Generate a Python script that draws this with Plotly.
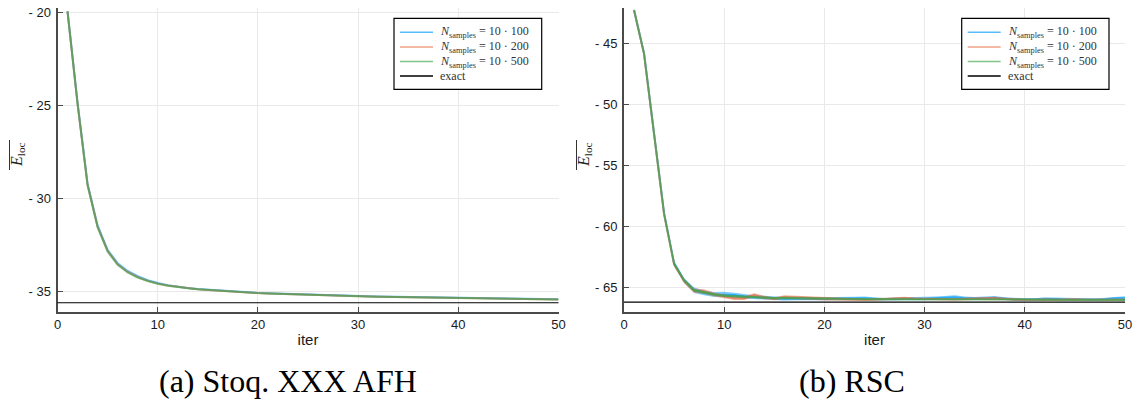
import plotly.graph_objects as go

# ---------------------------------------------------------------- data
iters = list(range(1, 51))

# Stoquastic AFH: mean local energy per iteration for three sample sizes
afh_100 = [-19.95, -24.85, -29.22, -31.47, -32.78, -33.50, -33.92, -34.20, -34.41, -34.57,
           -34.68, -34.77, -34.84, -34.89, -34.93, -34.97, -35.01, -35.04, -35.07, -35.10,
           -35.12, -35.14, -35.16, -35.18, -35.20, -35.21, -35.23, -35.24, -35.25, -35.27,
           -35.28, -35.29, -35.30, -35.31, -35.32, -35.33, -35.34, -35.35, -35.36, -35.37,
           -35.38, -35.38, -35.39, -35.40, -35.41, -35.41, -35.42, -35.43, -35.43, -35.44]
afh_200 = [-19.95, -24.90, -29.28, -31.53, -32.84, -33.56, -33.97, -34.25, -34.45, -34.60,
           -34.70, -34.78, -34.85, -34.90, -34.94, -34.98, -35.02, -35.05, -35.08, -35.11,
           -35.13, -35.15, -35.17, -35.19, -35.21, -35.22, -35.24, -35.25, -35.26, -35.28,
           -35.29, -35.30, -35.31, -35.32, -35.33, -35.34, -35.35, -35.36, -35.37, -35.38,
           -35.39, -35.39, -35.40, -35.41, -35.42, -35.42, -35.43, -35.44, -35.44, -35.45]
afh_500 = [-19.95, -24.92, -29.31, -31.56, -32.87, -33.59, -34.00, -34.27, -34.46, -34.61,
           -34.71, -34.79, -34.85, -34.90, -34.94, -34.98, -35.02, -35.05, -35.08, -35.11,
           -35.13, -35.15, -35.17, -35.19, -35.21, -35.22, -35.24, -35.25, -35.26, -35.28,
           -35.29, -35.30, -35.31, -35.32, -35.33, -35.34, -35.35, -35.36, -35.37, -35.38,
           -35.39, -35.40, -35.40, -35.41, -35.42, -35.43, -35.43, -35.44, -35.45, -35.45]
afh_exact = -35.63

# RSC: mean local energy and spread (half width of the ribbon)
rsc_100 = [-42.30, -45.85, -52.40, -58.90, -63.00, -64.40, -65.20, -65.42, -65.55, -65.55,
           -65.60, -65.72, -65.78, -65.80, -65.85, -65.90, -65.88, -65.90, -65.92, -65.90,
           -65.88, -65.90, -65.88, -65.85, -65.92, -65.95, -65.92, -65.90, -65.93, -65.90,
           -65.85, -65.82, -65.78, -65.85, -65.88, -65.85, -65.82, -65.90, -65.95, -65.96,
           -65.95, -65.90, -65.92, -65.95, -65.95, -65.96, -65.97, -65.93, -65.85, -65.85]
rsc_100_err = [0.05, 0.08, 0.10, 0.12, 0.20, 0.20, 0.22, 0.20, 0.20, 0.22,
               0.20, 0.18, 0.16, 0.15, 0.15, 0.14, 0.14, 0.13, 0.13, 0.13,
               0.13, 0.13, 0.14, 0.14, 0.12, 0.12, 0.12, 0.12, 0.12, 0.13,
               0.14, 0.15, 0.16, 0.14, 0.13, 0.13, 0.14, 0.12, 0.10, 0.10,
               0.10, 0.12, 0.12, 0.11, 0.10, 0.10, 0.10, 0.11, 0.14, 0.15]
rsc_200 = [-42.30, -45.90, -52.45, -59.00, -63.10, -64.45, -65.25, -65.30, -65.55, -65.70,
           -65.85, -65.85, -65.60, -65.80, -65.90, -65.75, -65.78, -65.80, -65.88, -65.92,
           -65.95, -65.93, -65.95, -65.98, -65.95, -65.90, -65.88, -65.85, -65.90, -65.92,
           -65.95, -65.93, -65.95, -65.92, -65.90, -65.88, -65.85, -65.92, -65.97, -65.98,
           -65.98, -65.96, -66.00, -65.97, -65.95, -65.98, -65.97, -65.96, -65.97, -65.98]
rsc_200_err = [0.05, 0.08, 0.10, 0.12, 0.15, 0.18, 0.18, 0.18, 0.16, 0.15,
               0.16, 0.15, 0.15, 0.14, 0.13, 0.14, 0.13, 0.13, 0.12, 0.12,
               0.11, 0.11, 0.11, 0.10, 0.10, 0.11, 0.12, 0.12, 0.11, 0.10,
               0.10, 0.10, 0.10, 0.10, 0.11, 0.12, 0.12, 0.10, 0.09, 0.09,
               0.09, 0.09, 0.08, 0.09, 0.09, 0.08, 0.08, 0.08, 0.08, 0.08]
rsc_500 = [-42.30, -45.85, -52.40, -58.95, -63.05, -64.40, -65.20, -65.40, -65.55, -65.65,
           -65.70, -65.75, -65.80, -65.82, -65.85, -65.83, -65.85, -65.87, -65.90, -65.90,
           -65.91, -65.92, -65.92, -65.93, -65.93, -65.92, -65.90, -65.91, -65.93, -65.92,
           -65.93, -65.94, -65.94, -65.95, -65.94, -65.93, -65.93, -65.95, -65.96, -65.96,
           -65.97, -65.97, -65.97, -65.98, -65.98, -65.98, -65.98, -65.99, -65.99, -65.99]
rsc_500_err = [0.04, 0.06, 0.08, 0.10, 0.12, 0.12, 0.12, 0.12, 0.11, 0.10,
               0.10, 0.10, 0.09, 0.09, 0.09, 0.09, 0.08, 0.08, 0.08, 0.08,
               0.07, 0.07, 0.07, 0.07, 0.07, 0.07, 0.07, 0.07, 0.07, 0.07,
               0.06, 0.06, 0.06, 0.06, 0.06, 0.06, 0.06, 0.06, 0.06, 0.06,
               0.06, 0.06, 0.06, 0.06, 0.06, 0.06, 0.06, 0.06, 0.06, 0.06]
rsc_exact = -66.18

series_names = ["10 · 100", "10 · 200", "10 · 500"]
x_ticks = [0, 10, 20, 30, 40, 50]
afh_ticks = [-35, -30, -25, -20]
rsc_ticks = [-65, -60, -55, -50, -45]

# ---------------------------------------------------------------- style
W, H = 1140, 405
RGB = ["0,154,250", "227,111,71", "62,164,78"]
LINE_ALPHA = 0.65
FILL_ALPHA = 0.5
AXIS_COL = "#4a4a4a"
GRID_COL = "#e9e9e9"
SANS = "Liberation Sans, Arial, sans-serif"
SERIF = "Liberation Serif, Times New Roman, serif"


def px(x):
    return x / W


def py(y):
    return 1 - y / H


fig = go.Figure()

# left panel: plain lines
for vals, rgb, name in zip([afh_100, afh_200, afh_500], RGB, series_names):
    fig.add_trace(go.Scatter(
        x=iters, y=vals, mode="lines", name=name,
        line=dict(color=f"rgba({rgb},{LINE_ALPHA})", width=2),
        xaxis="x", yaxis="y", hoverinfo="x+y"))

# right panel: ribbons + lines
for vals, err, rgb, name in zip([rsc_100, rsc_200, rsc_500],
                                [rsc_100_err, rsc_200_err, rsc_500_err], RGB, series_names):
    upper = [v + e for v, e in zip(vals, err)]
    lower = [v - e for v, e in zip(vals, err)]
    fig.add_trace(go.Scatter(x=iters, y=upper, mode="lines", line=dict(width=0),
                             xaxis="x2", yaxis="y2", hoverinfo="skip", showlegend=False))
    fig.add_trace(go.Scatter(x=iters, y=lower, mode="lines", line=dict(width=0),
                             fill="tonexty", fillcolor=f"rgba({rgb},{FILL_ALPHA})",
                             xaxis="x2", yaxis="y2", hoverinfo="skip", showlegend=False))
    fig.add_trace(go.Scatter(
        x=iters, y=vals, mode="lines", name=name,
        line=dict(color=f"rgba({rgb},{LINE_ALPHA})", width=2),
        xaxis="x2", yaxis="y2", hoverinfo="x+y"))

# exact reference energies
shapes = [
    dict(type="line", xref="x domain", yref="y", x0=0, x1=1, y0=afh_exact, y1=afh_exact,
         line=dict(color="black", width=1.2)),
    dict(type="line", xref="x2 domain", yref="y2", x0=0, x1=1, y0=rsc_exact, y1=rsc_exact,
         line=dict(color="black", width=1.2)),
]

annotations = []


def axis_common(domain, rng, ticks, ticktext=None):
    d = dict(domain=domain, range=rng, tickvals=ticks, showgrid=True, gridcolor=GRID_COL,
             gridwidth=1, zeroline=False, showline=True, linecolor=AXIS_COL, linewidth=2,
             ticks="inside", ticklen=5, tickwidth=1, tickcolor=AXIS_COL,
             tickfont=dict(family=SANS, size=13, color="#1a1a1a"), automargin=False,
             fixedrange=True)
    if ticktext is not None:
        d["ticktext"] = ticktext
    return d


y_dom = [py(311.5), py(8.3)]
xa = axis_common([px(57.5), px(558.5)], [0, 50], x_ticks)
xa.update(title=dict(text="iter", font=dict(family=SANS, size=15, color="#1a1a1a"), standoff=3),
          anchor="y")
xa2 = axis_common([px(624), px(1125)], [0, 50], x_ticks)
xa2.update(title=dict(text="iter", font=dict(family=SANS, size=15, color="#1a1a1a"), standoff=3),
           anchor="y2")
ya = axis_common(y_dom, [-36.1, -19.78], afh_ticks, ["- %d" % abs(t) for t in afh_ticks])
ya.update(anchor="x", ticklabelstandoff=2)
ya2 = axis_common(y_dom, [-66.94, -42.16], rsc_ticks, ["- %d" % abs(t) for t in rsc_ticks])
ya2.update(anchor="x2", ticklabelstandoff=2)

# y-axis labels: E_loc with an overbar
for xc, xbar in [(18, 9.5), (585, 576.5)]:
    annotations.append(dict(xref="paper", yref="paper", x=px(xc), y=py(155),
                            xanchor="center", yanchor="middle",
                            text="<i>E</i><sub>loc</sub>", textangle=-90, showarrow=False,
                            font=dict(family=SERIF, size=16, color="#222")))
    shapes.append(dict(type="line", xref="paper", yref="paper", x0=px(xbar), x1=px(xbar),
                       y0=py(140), y1=py(170), line=dict(color="#333", width=1)))

# legends
legend_labels = ["<i>N</i><sub>samples</sub> = " + n for n in series_names] + ["exact"]
legend_cols = [f"rgba({c},{LINE_ALPHA})" for c in RGB] + ["black"]
for bx0, bx1 in [(394, 541.7), (961.7, 1109)]:
    shapes.append(dict(type="rect", xref="paper", yref="paper", x0=px(bx0), x1=px(bx1),
                       y0=py(89.3), y1=py(18.3), fillcolor="white",
                       line=dict(color="black", width=1.2), layer="above"))
    for i, (lab, col) in enumerate(zip(legend_labels, legend_cols)):
        yy = 32.3 + i * 14.6
        shapes.append(dict(type="line", xref="paper", yref="paper", x0=px(bx0 + 6),
                           x1=px(bx0 + 39), y0=py(yy), y1=py(yy),
                           line=dict(color=col, width=1.5), layer="above"))
        annotations.append(dict(xref="paper", yref="paper", x=px(bx0 + 44), y=py(yy),
                                xanchor="left", yanchor="middle", text=lab, showarrow=False,
                                font=dict(family=SERIF, size=12, color="#333")))

# sub-figure captions
for xc, cap in [(288, "(a) Stoq. XXX AFH"), (852, "(b) RSC")]:
    annotations.append(dict(xref="paper", yref="paper", x=px(xc), y=py(381),
                            xanchor="center", yanchor="middle", text=cap, showarrow=False,
                            font=dict(family=SERIF, size=32, color="black")))

fig.update_layout(
    width=W, height=H, margin=dict(l=0, r=0, t=0, b=0),
    paper_bgcolor="white", plot_bgcolor="white", showlegend=False,
    xaxis=xa, yaxis=ya, xaxis2=xa2, yaxis2=ya2,
    shapes=shapes, annotations=annotations,
)

fig.write_html("out.html")
